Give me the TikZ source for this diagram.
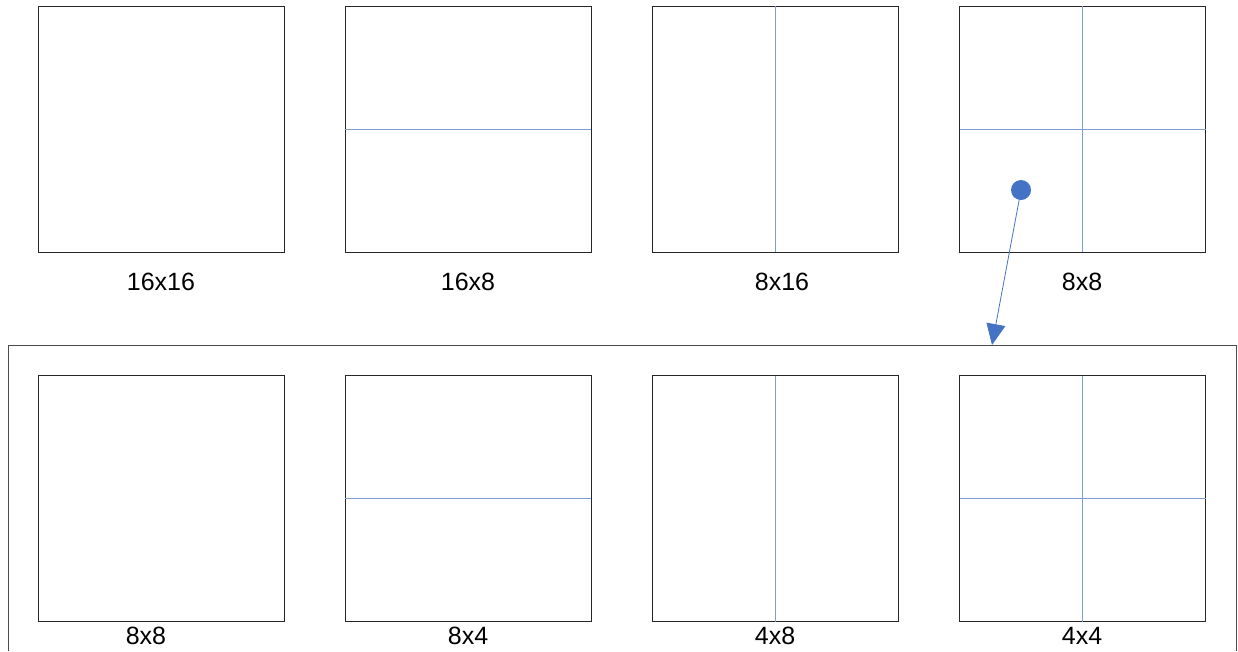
\documentclass[tikz,border=0pt]{standalone}
\usepackage{fontspec}
\setmainfont{Liberation Sans}
\usetikzlibrary{arrows.meta}
\definecolor{splitblue}{HTML}{7F9ED4}
\definecolor{arrblue}{HTML}{4472C4}
\begin{document}
\begin{tikzpicture}[x=1pt,y=-1pt,
  blk/.style={draw=black!85,line width=0.8pt,minimum width=246pt,minimum height=246pt,inner sep=0pt,outer sep=0pt},
  split/.style={draw=splitblue,line width=0.8pt},
  lbl/.style={font=\fontsize{25}{28}\selectfont,inner sep=0pt}]
\useasboundingbox (0,0) rectangle (1238,651);
% outer frame (open at bottom)
\draw[black!70,line width=0.8pt] (8,651) -- (8,345) -- (1236,345) -- (1236,651);
% top row
\foreach \n/\x in {a/161,b/468,c/775.5,d/1082.5}{
  \node[blk] (\n) at (\x,129) {};
}
\foreach \n/\x in {e/161,f/468,g/775.5,h/1082.5}{
  \node[blk] (\n) at (\x,498.5) {};
}
\draw[split] (b.west) -- (b.east);
\draw[split] (c.north) -- (c.south);
\draw[split] (d.west) -- (d.east);
\draw[split] (d.north) -- (d.south);
\draw[split] (f.west) -- (f.east);
\draw[split] (g.north) -- (g.south);
\draw[split] (h.west) -- (h.east);
\draw[split] (h.north) -- (h.south);
% labels
\node[lbl] (la) at (161,282) {16x16};
\node[lbl] (lb) at (468,282) {16x8};
\node[lbl] (lc) at (782,282) {8x16};
\node[lbl] (ld) at (1082,282) {8x8};
\node[lbl] (le) at (146,636) {8x8};
\node[lbl] (lf) at (468,636) {8x4};
\node[lbl] (lg) at (775,636) {4x8};
\node[lbl] (lh) at (1082,636) {4x4};
% arrow
\node[circle,fill=arrblue,minimum size=20pt,inner sep=0pt] (dot) at (1021,190) {};
\coordinate (tip) at (992,345);
\draw[arrblue,line width=0.8pt,-{Triangle[length=21pt,width=19pt]}] (dot.center) -- (tip);
\end{tikzpicture}
\end{document}
